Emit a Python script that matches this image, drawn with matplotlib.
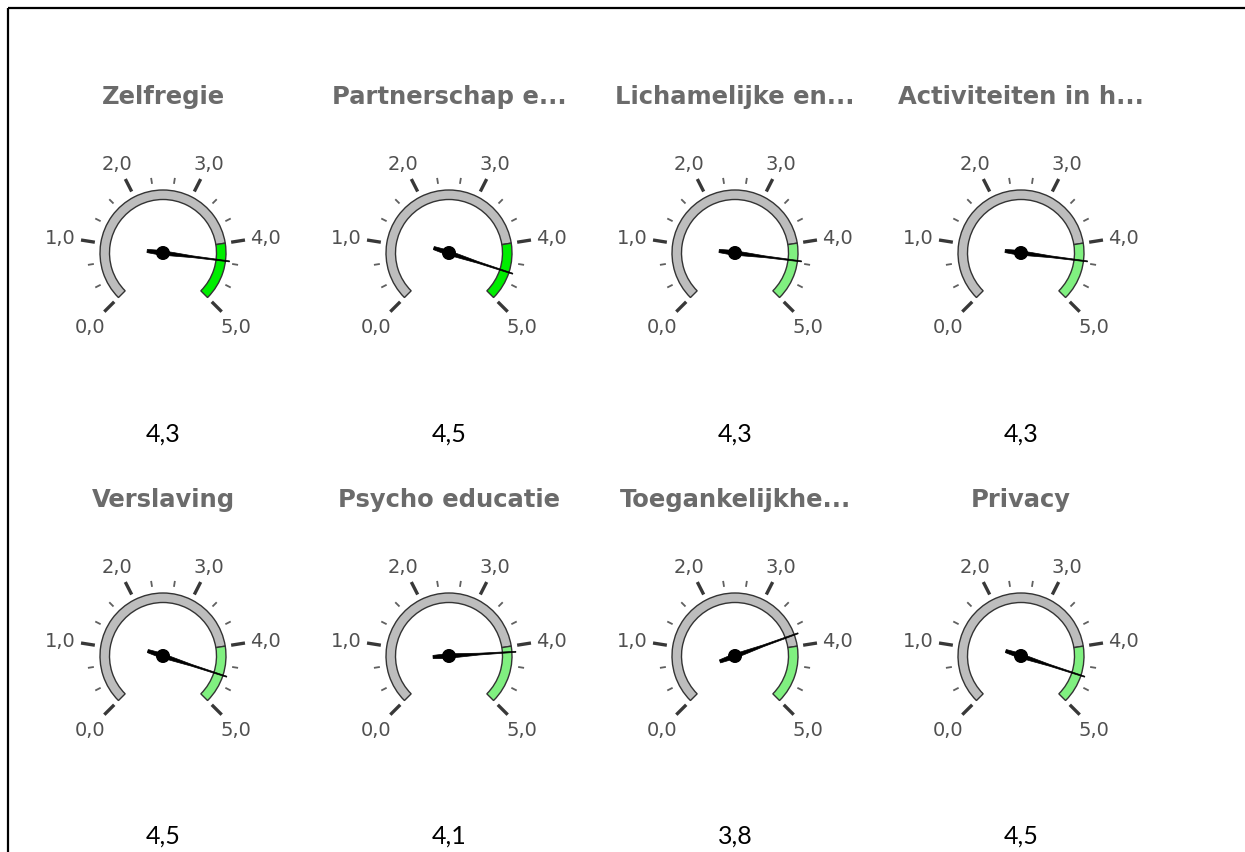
import numpy as np
import matplotlib
matplotlib.use("Agg")
import matplotlib.pyplot as plt
from matplotlib.patches import Wedge, Circle, Polygon

# ---------------- data ----------------
titles = ["Zelfregie", "Partnerschap e...", "Lichamelijke en...", "Activiteiten in h...",
          "Verslaving", "Psycho educatie", "Toegankelijkhe...", "Privacy"]
values = [4.3, 4.5, 4.3, 4.3, 4.5, 4.1, 3.8, 4.5]
value_labels = ["4,3", "4,5", "4,3", "4,3", "4,5", "4,1", "3,8", "4,5"]
scale_min, scale_max = 0.0, 5.0
band_start = 4.0
band_colors = ["#00ee00", "#00ee00", "#80f080", "#80f080",
               "#80f080", "#80f080", "#80f080", "#80f080"]
major_ticks = [0, 1, 2, 3, 4, 5]
tick_labels = ["0,0", "1,0", "2,0", "3,0", "4,0", "5,0"]
minor_per_major = 3

# ---------------- layout (pixels) ----------------
W, H = 1245, 852
fig = plt.figure(figsize=(W / 100, H / 100), dpi=100)
ax = fig.add_axes([0, 0, 1, 1])
ax.set_xlim(0, W)
ax.set_ylim(0, H)
ax.set_aspect("equal")
ax.axis("off")

col_x = [163, 449, 735, 1021]
row_cy = [H - 253, H - 656]
row_title = [H - 97, H - 500]
row_value = [H - 434, H - 836]

R_OUT, R_W = 63, 9.5


def ang(v):
    return 225 - 270 * (v - scale_min) / (scale_max - scale_min)


def pol(cx, cy, r, a):
    t = np.radians(a)
    return cx + r * np.cos(t), cy + r * np.sin(t)


for i, (title, val) in enumerate(zip(titles, values)):
    row, col = divmod(i, 4)
    cx, cy = col_x[col], row_cy[row]

    # title
    ax.text(cx, row_title[row], title, ha="center", va="center", fontsize=17.5,
            fontweight="bold", color="#6b6b6b", family="DejaVu Sans")

    # minor ticks
    n_minor = (len(major_ticks) - 1) * minor_per_major
    for k in range(n_minor + 1):
        if k % minor_per_major == 0:
            continue
        v = scale_min + k * (scale_max - scale_min) / n_minor
        a = ang(v)
        x0, y0 = pol(cx, cy, 70, a)
        x1, y1 = pol(cx, cy, 76, a)
        ax.plot([x0, x1], [y0, y1], color="#606060", lw=1.3, solid_capstyle="butt")

    # major ticks + labels
    for v, lab in zip(major_ticks, tick_labels):
        a = ang(v)
        x0, y0 = pol(cx, cy, 69, a)
        x1, y1 = pol(cx, cy, 83, a)
        ax.plot([x0, x1], [y0, y1], color="#383838", lw=2.4, solid_capstyle="butt")
        t = np.radians(a)
        rr = 87 + 16 * abs(np.cos(t)) + 7.5 * abs(np.sin(t))
        lx, ly = pol(cx, cy, rr, a)
        ax.text(lx, ly - 1.5, lab, ha="center", va="center", fontsize=14,
                color="#505050", family="DejaVu Sans")

    # arc: gray band and coloured band
    ax.add_patch(Wedge((cx, cy), R_OUT, ang(band_start), ang(scale_min), width=R_W,
                       facecolor="#bdbdbd", edgecolor="#333333", lw=1.0))
    ax.add_patch(Wedge((cx, cy), R_OUT, ang(scale_max), ang(band_start), width=R_W,
                       facecolor=band_colors[i], edgecolor="#333333", lw=1.0))

    # needle
    a = np.radians(ang(val))
    u = np.array([np.cos(a), np.sin(a)])
    p = np.array([-np.sin(a), np.cos(a)])
    prof = [(-16, 1.6), (-4, 2.3), (10, 1.8), (30, 0.9), (67, 0.5)]
    pts = [(cx + s * u[0] + w * p[0], cy + s * u[1] + w * p[1]) for s, w in prof]
    pts += [(cx + s * u[0] - w * p[0], cy + s * u[1] - w * p[1]) for s, w in reversed(prof)]
    ax.add_patch(Polygon(pts, closed=True, facecolor="black", edgecolor="black", lw=0.5))
    ax.add_patch(Circle((cx, cy), 6.3, facecolor="black", edgecolor="black"))

    # value text
    ax.text(cx, row_value[row], value_labels[i], ha="center", va="center",
            fontsize=18, color="black", family="Lato")

# frame lines (top and left)
ax.plot([8, W], [H - 8, H - 8], color="black", lw=1.6, solid_capstyle="butt")
ax.plot([8, 8], [H - 8, 0], color="black", lw=1.6, solid_capstyle="butt")

fig.savefig("out.png", dpi=100, facecolor="white")
